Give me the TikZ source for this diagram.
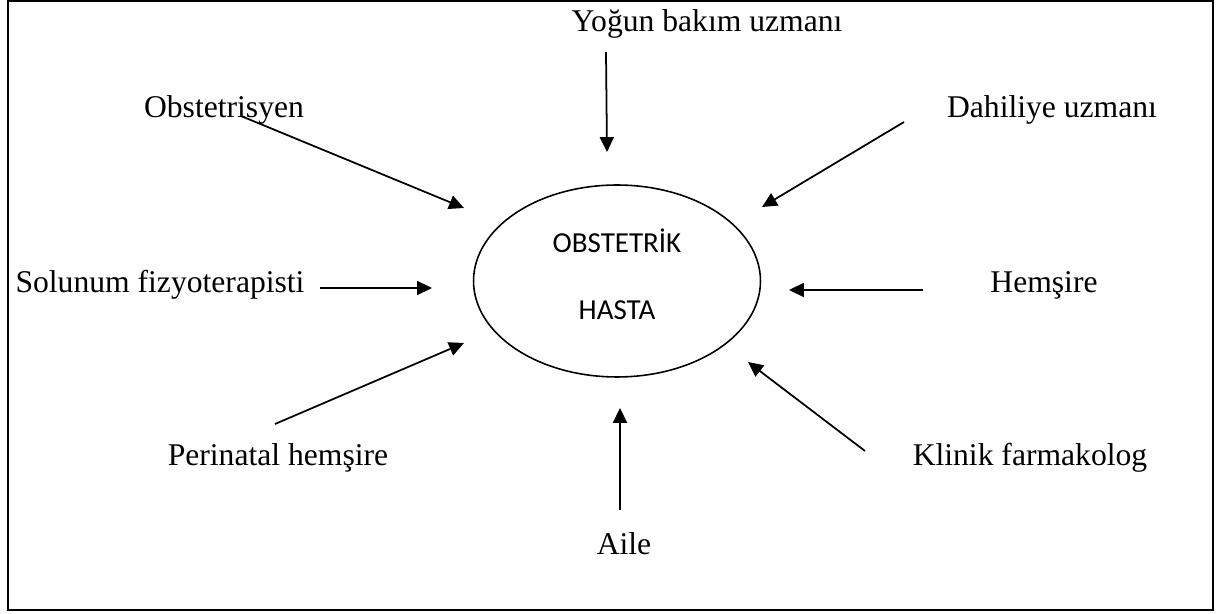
\documentclass[tikz,border=0pt]{standalone}
\usepackage{fontspec}
\setmainfont{Liberation Serif}
\newfontfamily\calibrifont{Carlito}
\usetikzlibrary{shapes.geometric}
\usetikzlibrary{arrows.meta}

\begin{document}
\begin{tikzpicture}
    [x=0.02cm, y=-0.02cm,
     role/.style = {font=\fontsize{18}{22}\selectfont, inner sep=0pt, anchor=base},
     feed/.style = {-{Triangle[length=8.5pt,width=8pt]}, line width=1pt}]

    \useasboundingbox (0,0) rectangle (1218,614);
    \draw[line width=1.3pt] (8,1) rectangle (1213,610);

    \node[draw, ellipse, line width=0.9pt, minimum width=5.74cm, minimum height=3.84cm,
          label={[yshift=4pt, align=center, font=\calibrifont\fontsize{16.5}{38}\selectfont]center:{OBSTETRİK\\HASTA}}]
          (hasta) at (617,281) {};

    \node[role] (yogun) at (707,32) {Yoğun bakım uzmanı};
    \node[role] (obstet) at (224,118) {Obstetrisyen};
    \node[role] (dahili) at (1052,118) {Dahiliye uzmanı};
    \node[role] (solunum) at (160,293) {Solunum fizyoterapisti};
    \node[role] (hemsire) at (1044,293) {Hemşire};
    \node[role] (perinat) at (278,466) {Perinatal hemşire};
    \node[role] (klinik) at (1030,466) {Klinik farmakolog};
    \node[role] (aile) at (624,555) {Aile};

    \coordinate (yogunA) at (606,52);
    \coordinate (yogunB) at (607,152);
    \coordinate (obstetA) at (241,116);
    \coordinate (obstetB) at (464,208);
    \coordinate (dahiliA) at (904,122);
    \coordinate (dahiliB) at (762,207);
    \coordinate (solunumA) at (320,288);
    \coordinate (solunumB) at (432,288);
    \coordinate (hemsireA) at (923,290);
    \coordinate (hemsireB) at (789,290);
    \coordinate (perinatA) at (275,424);
    \coordinate (perinatB) at (464,343);
    \coordinate (klinikA) at (865,451);
    \coordinate (klinikB) at (748,362);
    \coordinate (aileA) at (620,510);
    \coordinate (aileB) at (620,408);

    \draw[feed] (yogunA) to (yogunB);
    \draw[feed] (obstetA) to (obstetB);
    \draw[feed] (dahiliA) to (dahiliB);
    \draw[feed] (solunumA) to (solunumB);
    \draw[feed] (hemsireA) to (hemsireB);
    \draw[feed] (perinatA) to (perinatB);
    \draw[feed] (klinikA) to (klinikB);
    \draw[feed] (aileA) to (aileB);
\end{tikzpicture}
\end{document}
